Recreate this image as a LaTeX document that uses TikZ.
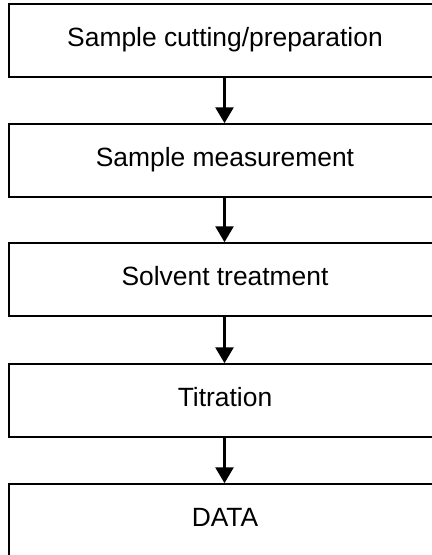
\documentclass[tikz,border=0pt]{standalone}
\usepackage{fontspec}
\setmainfont{Liberation Sans}
\usetikzlibrary{arrows.meta}
\begin{document}
\begin{tikzpicture}[x=1bp,y=-1bp,
  stepbox/.style={draw=black,line width=1.3bp,rectangle,minimum width=432bp,minimum height=73bp,inner sep=0pt,
    font=\fontsize{26.4bp}{30bp}\selectfont,text height=18bp,text depth=6bp},
  flowarrow/.style={line width=3.8bp,-{Triangle[width=17.5bp,length=16bp]}}]
\useasboundingbox[fill=white] (0,0) rectangle (431,555);
\node[stepbox] (b1) at (225,40.5) {Sample cutting/preparation};
\node[stepbox] (b2) at (225,160.5) {Sample measurement};
\node[stepbox] (b3) at (225,279.5) {Solvent treatment};
\node[stepbox] (b4) at (225,400.5) {Titration};
\node[stepbox] (b5) at (225,520.5) {DATA};
\draw[flowarrow] ([xshift=-0.5bp]b1.south) -- ([xshift=-0.5bp]b2.north);
\draw[flowarrow] ([xshift=-0.5bp]b2.south) -- ([xshift=-0.5bp]b3.north);
\draw[flowarrow] ([xshift=-0.5bp]b3.south) -- ([xshift=-0.5bp]b4.north);
\draw[flowarrow] ([xshift=-0.5bp]b4.south) -- ([xshift=-0.5bp]b5.north);
\end{tikzpicture}
\end{document}
